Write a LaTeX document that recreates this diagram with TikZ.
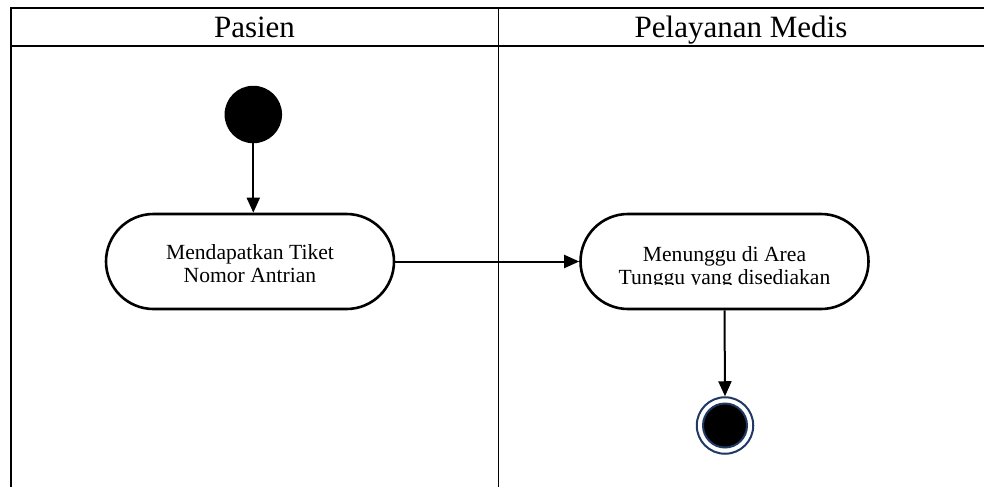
\documentclass[tikz,border=0pt]{standalone}
\usepackage{fontspec}
\setmainfont{Liberation Serif}
\usetikzlibrary{arrows.meta,shapes.misc}
\definecolor{ringblue}{HTML}{1F3864}
\begin{document}
\begin{tikzpicture}[x=1pt,y=-1pt,
  lane/.style={line width=1.3pt},
  lanetitle/.style={font=\fontsize{31}{33}\selectfont, anchor=base, inner sep=0pt},
  action/.style={draw, line width=2.6pt, rounded rectangle, minimum width=288pt,
                 minimum height=95pt, inner sep=0pt},
  actiontext/.style={font=\fontsize{21.6}{23}\selectfont, align=center, inner sep=0pt},
  flow/.style={line width=2pt, -{Triangle[length=15pt,width=13pt]}},
  initialnode/.style={circle, fill=black, minimum size=57.5pt, inner sep=0pt},
]
\useasboundingbox (0,0) rectangle (984,487);

% swimlane frame
\draw[lane] (11,487) -- (11,8) -- (984,8);
\draw[lane] (11,46) -- (984,46);
\draw[lane] (498.7,8) -- (498.7,487);
\node[lanetitle] (lanepasien) at (254.5,37.5) {Pasien};
\node[lanetitle] (lanemedis) at (741,37.5) {Pelayanan Medis};

% nodes
\node[initialnode] (start) at (253.3,114.5) {};
\node[action] (n1) at (250,261.5) {};
\node[actiontext] (n1text) at (250,264) {Mendapatkan Tiket\\Nomor Antrian};
\node[action] (n2) at (724.5,261.5) {};
\begin{scope}
  \clip (581,215) rectangle (868,284.5);
  \node[actiontext] (n2text) at (724.5,268) {Menunggu di Area\\Tunggu yang disediakan};
\end{scope}
\node[circle, draw=ringblue, line width=2pt, fill=white, minimum size=56.5pt, inner sep=0pt]
  (final) at (725,425.5) {};
\node[circle, draw=ringblue, line width=2pt, fill=black, minimum size=44pt, inner sep=0pt]
  (finaldot) at (final.center) {};

% flows
\draw[flow] (start.south) -- (start.south |- n1.north);
\draw[flow] (n1.east) -- (n2.west);
\draw[flow] (n2.south) -- (final.north);
\end{tikzpicture}
\end{document}
